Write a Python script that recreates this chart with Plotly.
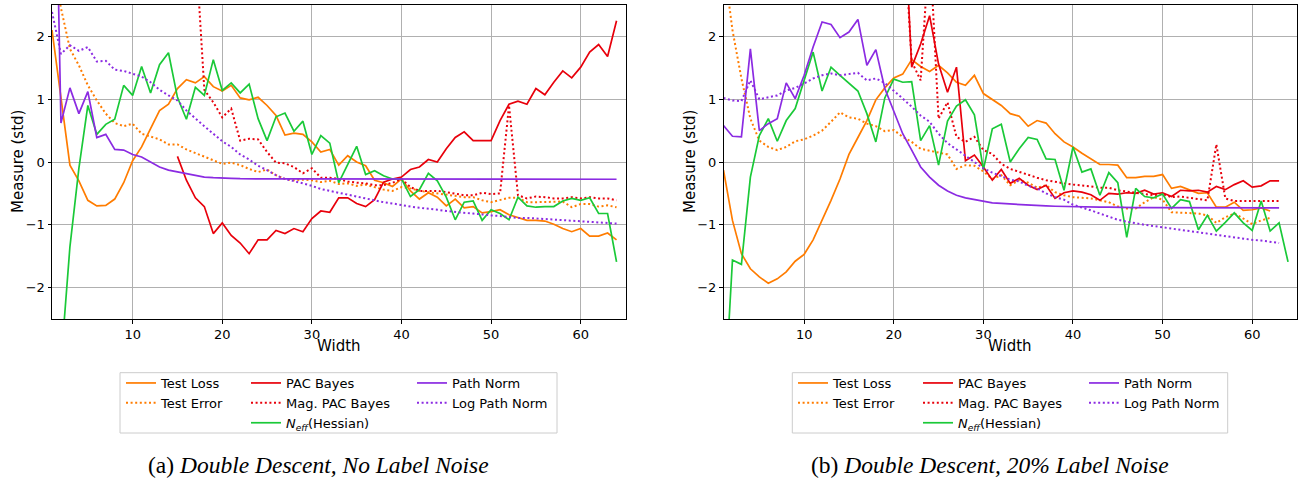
import plotly.graph_objects as go

W, H = 1298, 483

# ---------------- data ----------------
width_a = list(range(1, 65))
width_b = list(range(1, 65))

x_ticks = [10, 20, 30, 40, 50, 60]
y_ticks = [-2, -1, 0, 1, 2]

series_names = ["Test Loss", "Test Error", "PAC Bayes", "Mag. PAC Bayes",
                "<i>N<sub>eff</sub></i>(Hessian)", "Path Norm", "Log Path Norm"]

# (a) No label noise
test_loss_a = [2.1, 1.0, -0.05, -0.3, -0.61, -0.70, -0.69, -0.59, -0.33, 0.02,
               0.24, 0.53, 0.82, 0.92, 1.17, 1.31, 1.26, 1.36, 1.20, 1.13,
               1.22, 1.02, 0.99, 1.03, 0.90, 0.74, 0.43, 0.46, 0.44, 0.32,
               0.16, 0.20, -0.05, 0.10, 0.0, -0.06, -0.29, -0.33, -0.39, -0.27,
               -0.46, -0.59, -0.49, -0.56, -0.70, -0.59, -0.73, -0.71, -0.81, -0.79,
               -0.76, -0.84, -0.88, -0.93, -0.93, -0.94, -0.99, -1.06, -1.11, -1.06,
               -1.18, -1.18, -1.13, -1.24]
test_err_a = [3.3, 2.45, 1.80, 1.54, 1.22, 0.98, 0.77, 0.62, 0.57, 0.61,
              0.45, 0.40, 0.36, 0.28, 0.28, 0.20, 0.14, 0.09, 0.03, -0.03,
              -0.01, -0.05, -0.11, -0.16, -0.12, -0.21, -0.27, -0.29, -0.28, -0.29,
              -0.32, -0.30, -0.35, -0.34, -0.38, -0.36, -0.40, -0.44, -0.46, -0.40,
              -0.42, -0.46, -0.48, -0.50, -0.51, -0.53, -0.56, -0.56, -0.61, -0.64,
              -0.61, -0.57, -0.57, -0.64, -0.64, -0.64, -0.64, -0.63, -0.72, -0.67,
              -0.67, -0.71, -0.69, -0.72]
pac_a = [None, None, None, None, None, None, None, None, None, None,
         None, None, None, None, 0.09, -0.29, -0.57, -0.71, -1.14, -0.97,
         -1.17, -1.29, -1.46, -1.24, -1.24, -1.09, -1.14, -1.06, -1.11, -0.90,
         -0.78, -0.80, -0.57, -0.57, -0.66, -0.71, -0.60, -0.32, -0.27, -0.24,
         -0.12, -0.08, 0.04, 0.0, 0.21, 0.39, 0.48, 0.34, 0.34, 0.34,
         0.66, 0.92, 0.97, 0.92, 1.17, 1.07, 1.27, 1.45, 1.34, 1.51,
         1.75, 1.87, 1.68, 2.25]
mag_pac_a = [None, None, None, None, None, None, None, None, None, None,
             None, None, None, None, None, None, 3.5, 1.15, 0.95, 0.71,
             0.85, 0.34, 0.37, 0.36, 0.16, -0.01, -0.02, -0.08, -0.18, -0.10,
             -0.25, -0.25, -0.27, -0.31, -0.33, -0.34, -0.37, -0.37, -0.33, -0.27,
             -0.40, -0.46, -0.46, -0.46, -0.48, -0.50, -0.53, -0.53, -0.49, -0.51,
             -0.50, 0.90, -0.53, -0.58, -0.55, -0.56, -0.58, -0.58, -0.56, -0.58,
             -0.56, -0.58, -0.58, -0.61]
neff_a = [-4.5, -3.2, -1.35, -0.1, 0.90, 0.44, 0.60, 0.68, 1.22, 1.06,
          1.52, 1.10, 1.55, 1.74, 1.03, 0.68, 1.19, 1.06, 1.63, 1.14,
          1.26, 1.10, 1.24, 0.69, 0.34, 0.72, 0.78, 0.49, 0.65, 0.12,
          0.42, 0.30, -0.33, -0.03, 0.25, -0.20, -0.14, -0.22, -0.27, -0.27,
          -0.55, -0.44, -0.18, -0.30, -0.56, -0.92, -0.64, -0.62, -0.93, -0.76,
          -0.82, -0.92, -0.56, -0.70, -0.72, -0.71, -0.71, -0.62, -0.58, -0.61,
          -0.57, -0.82, -0.82, -1.59]
path_a = [7.8, 0.62, 1.18, 0.77, 1.12, 0.39, 0.44, 0.20, 0.19, 0.12,
          0.08, 0.0, -0.08, -0.13, -0.16, -0.19, -0.22, -0.24, -0.25, -0.25,
          -0.26, -0.265, -0.27, -0.27, -0.27, -0.27, -0.27, -0.27, -0.27, -0.27,
          -0.275, -0.275, -0.275, -0.275, -0.275, -0.275, -0.275, -0.275, -0.275, -0.275,
          -0.275, -0.275, -0.275, -0.275, -0.275, -0.275, -0.275, -0.275, -0.275, -0.275,
          -0.275, -0.275, -0.275, -0.275, -0.275, -0.275, -0.275, -0.275, -0.275, -0.275,
          -0.275, -0.275, -0.275, -0.275]
log_path_a = [2.39, 1.72, 1.86, 1.77, 1.83, 1.60, 1.61, 1.47, 1.45, 1.41,
              1.36, 1.27, 1.15, 1.06, 0.98, 0.82, 0.69, 0.57, 0.45, 0.33,
              0.24, 0.12, 0.04, -0.06, -0.13, -0.21, -0.27, -0.30, -0.34, -0.38,
              -0.43, -0.46, -0.49, -0.52, -0.56, -0.59, -0.62, -0.64, -0.66, -0.69,
              -0.71, -0.73, -0.74, -0.76, -0.78, -0.80, -0.81, -0.82, -0.84, -0.85,
              -0.86, -0.88, -0.89, -0.89, -0.90, -0.91, -0.92, -0.93, -0.94, -0.94,
              -0.95, -0.97, -0.97, -0.98]

# (b) 20% label noise
test_loss_b = [-0.13, -0.93, -1.46, -1.70, -1.83, -1.93, -1.86, -1.75, -1.58, -1.47,
               -1.24, -0.93, -0.61, -0.27, 0.12, 0.39, 0.66, 0.99, 1.18, 1.34,
               1.40, 1.63, 1.52, 1.44, 1.54, 1.42, 1.27, 1.22, 1.38, 1.09,
               0.99, 0.90, 0.77, 0.73, 0.57, 0.66, 0.62, 0.45, 0.32, 0.24,
               0.14, 0.05, -0.04, -0.04, -0.05, -0.25, -0.25, -0.23, -0.23, -0.20,
               -0.42, -0.39, -0.45, -0.50, -0.49, -0.72, -0.72, -0.64, -0.77, -0.76,
               -0.73, -0.78]
test_err_b = [3.2, 2.1, 1.33, 0.69, 0.34, 0.24, 0.19, 0.24, 0.33, 0.36,
              0.42, 0.50, 0.64, 0.79, 0.71, 0.69, 0.61, 0.57, 0.49, 0.51,
              0.40, 0.32, 0.21, 0.18, 0.14, 0.12, -0.11, -0.05, -0.06, -0.15,
              -0.27, -0.21, -0.37, -0.29, -0.33, -0.41, -0.37, -0.48, -0.53, -0.56,
              -0.57, -0.58, -0.61, -0.64, -0.71, -0.74, -0.74, -0.64, -0.56, -0.60,
              -0.80, -0.81, -0.81, -0.82, -0.85, -0.97, -0.88, -0.82, -0.90, -0.99,
              -0.93, -0.89]
pac_b = [None, None, None, None, None, None, None, None, None, None,
         None, None, None, None, None, None, None, None, None, None,
         4.5, 1.51, 1.88, 2.33, 1.56, 1.11, 1.51, 0.02, 0.11, -0.08,
         -0.29, -0.12, -0.34, -0.26, -0.37, -0.44, -0.37, -0.58, -0.49, -0.46,
         -0.48, -0.52, -0.61, -0.50, -0.51, -0.49, -0.50, -0.45, -0.51, -0.49,
         -0.55, -0.45, -0.46, -0.45, -0.48, -0.39, -0.44, -0.36, -0.30, -0.40,
         -0.38, -0.30, -0.30]
mag_pac_b = [None, None, None, None, None, None, None, None, None, None,
             None, None, None, None, None, None, None, None, None, None,
             4.0, 1.6, 1.3, 3.5, 0.69, 0.95, 0.40, 0.32, 0.40, 0.19,
             0.13, -0.03, -0.11, -0.16, -0.21, -0.25, -0.29, -0.32, -0.34, -0.36,
             -0.37, -0.39, -0.41, -0.41, -0.45, -0.47, -0.48, -0.50, -0.53, -0.51,
             -0.56, -0.55, -0.57, -0.58, -0.61, 0.28, -0.58, -0.62, -0.62, -0.61,
             -0.62, -0.62, -0.62]
neff_b = [-4.1, -1.56, -1.63, -0.24, 0.42, 0.69, 0.33, 0.66, 0.85, 1.29,
          1.75, 1.13, 1.51, 1.38, 1.26, 1.13, 0.77, 0.32, 1.02, 1.32,
          1.27, 1.28, 0.34, 0.58, -0.05, 0.65, 0.89, 0.99, 0.75, -0.12,
          0.53, 0.60, 0.0, 0.21, 0.39, 0.36, 0.05, 0.04, -0.45, 0.24,
          -0.16, -0.11, -0.53, -0.17, -0.33, -1.20, -0.42, -0.55, -0.57, -0.51,
          -0.74, -0.60, -0.63, -1.08, -0.85, -1.10, -0.96, -0.81, -0.97, -1.09,
          -0.62, -1.10, -0.97, -1.59]
path_b = [0.58, 0.41, 0.40, 1.80, 0.50, 0.61, 0.69, 1.26, 1.01, 1.38,
          1.83, 2.23, 2.19, 1.98, 2.07, 2.27, 1.54, 1.79, 1.17, 0.81,
          0.45, 0.19, -0.08, -0.24, -0.37, -0.46, -0.53, -0.57, -0.60, -0.63,
          -0.65, -0.66, -0.67, -0.68, -0.69, -0.695, -0.70, -0.705, -0.71, -0.715,
          -0.72, -0.72, -0.72, -0.72, -0.725, -0.725, -0.725, -0.725, -0.725, -0.73,
          -0.73, -0.73, -0.73, -0.73, -0.73, -0.73, -0.73, -0.73, -0.73, -0.73,
          -0.73, -0.73, -0.73]
log_path_b = [1.02, 0.98, 0.97, 1.30, 1.00, 1.03, 1.06, 1.14, 1.18, 1.25,
              1.33, 1.38, 1.41, 1.38, 1.40, 1.42, 1.30, 1.33, 1.26, 1.14,
              1.01, 0.88, 0.74, 0.64, 0.45, 0.30, 0.20, 0.10, 0.0, -0.10,
              -0.17, -0.23, -0.28, -0.31, -0.38, -0.42, -0.50, -0.56, -0.60, -0.68,
              -0.72, -0.77, -0.82, -0.87, -0.92, -0.95, -0.98, -1.00, -1.02, -1.04,
              -1.06, -1.08, -1.10, -1.12, -1.15, -1.17, -1.19, -1.20, -1.22, -1.24,
              -1.25, -1.27, -1.29]

# ---------------- styling ----------------
ORANGE, RED, GREEN, PURPLE = "#ff7c00", "#e8000b", "#1ac938", "#8b2be2"
DOT = "2px,2.6px"
styles = [(ORANGE, "solid", 1.7), (ORANGE, DOT, 2.0), (RED, "solid", 1.7), (RED, DOT, 2.0),
          (GREEN, "solid", 1.7), (PURPLE, "solid", 1.7), (PURPLE, DOT, 2.0)]
legend_cols = [0, 0, 1, 1, 1, 2, 2]

panels = [
    ("x", "y", width_a, [test_loss_a, test_err_a, pac_a, mag_pac_a, neff_a, path_a, log_path_a], 0),
    ("x2", "y2", width_b, [test_loss_b, test_err_b, pac_b, mag_pac_b, neff_b, path_b, log_path_b], 3),
]

fig = go.Figure()
for xa, ya, xs, ser, loff in panels:
    for i, ys in enumerate(ser):
        col, dash, lw = styles[i]
        lg = loff + legend_cols[i] + 1
        fig.add_trace(go.Scatter(
            x=xs[:len(ys)], y=ys, mode="lines", name=series_names[i],
            line=dict(color=col, width=lw, dash=dash),
            xaxis=xa, yaxis=ya, connectgaps=False,
            legend="legend" if lg == 1 else f"legend{lg}", showlegend=True))

FONT = "DejaVu Sans"
ydom = [1 - 319 / H, 1 - 5 / H]
axis_common = dict(showline=True, mirror=True, linecolor="black", linewidth=1,
                   ticks="outside", ticklen=3.5, tickwidth=1, tickcolor="black",
                   showgrid=True, gridcolor="#b0b0b0", gridwidth=1, zeroline=False,
                   tickfont=dict(family=FONT, size=13, color="black"))

def xaxis(dom, anchor):
    return dict(domain=dom, anchor=anchor, range=[1, 65], tickvals=x_ticks, **axis_common)

def yaxis(anchor):
    return dict(domain=ydom, anchor=anchor, range=[-2.5, 2.5], tickvals=y_ticks, **axis_common)

def leg(xpx, ypx):
    return dict(x=xpx / W, y=1 - ypx / H, xanchor="left", yanchor="top",
                bgcolor="rgba(0,0,0,0)", borderwidth=0, tracegroupgap=0,
                orientation="v", itemwidth=30,
                font=dict(family=FONT, size=13, color="black"))

def ann(text, xpx, ypx, size, family=FONT, angle=0):
    return dict(text=text, x=xpx / W, y=1 - ypx / H, xref="paper", yref="paper",
                showarrow=False, xanchor="center", yanchor="middle", textangle=angle,
                font=dict(family=family, size=size, color="black"))

leg_top = 368
layout = dict(
    width=W, height=H, margin=dict(l=0, r=0, t=0, b=0, autoexpand=False),
    paper_bgcolor="white", plot_bgcolor="white",
    xaxis=xaxis([52 / W, 625.5 / W], "y"),
    yaxis=yaxis("x"),
    xaxis2=xaxis([723.5 / W, 1297 / W], "y2"),
    yaxis2=yaxis("x2"),
    legend=leg(121, leg_top), legend2=leg(246, leg_top), legend3=leg(412, leg_top),
    legend4=leg(793, leg_top), legend5=leg(918, leg_top), legend6=leg(1084, leg_top),
    shapes=[
        dict(type="rect", xref="paper", yref="paper", x0=120 / W, x1=557 / W,
             y0=1 - 433 / H, y1=1 - 372.7 / H, line=dict(color="#cccccc", width=1)),
        dict(type="rect", xref="paper", yref="paper", x0=792.3 / W, x1=1227.7 / W,
             y0=1 - 433 / H, y1=1 - 372.7 / H, line=dict(color="#cccccc", width=1)),
    ],
    annotations=[
        ann("Width", 339, 346, 15),
        ann("Width", 1010, 346, 15),
        ann("Measure (std)", 18, 162, 15, angle=-90),
        ann("Measure (std)", 690, 162, 15, angle=-90),
        ann("(a) <i>Double Descent, No Label Noise</i>", 318, 465, 23.5, "Liberation Serif"),
        ann("(b) <i>Double Descent, 20% Label Noise</i>", 990, 465, 23.5, "Liberation Serif"),
    ],
)
fig.update_layout(**layout)
fig.write_html("out.html", config={"displayModeBar": False},
               post_script="document.body.style.margin='0';document.body.style.overflow='hidden';")
